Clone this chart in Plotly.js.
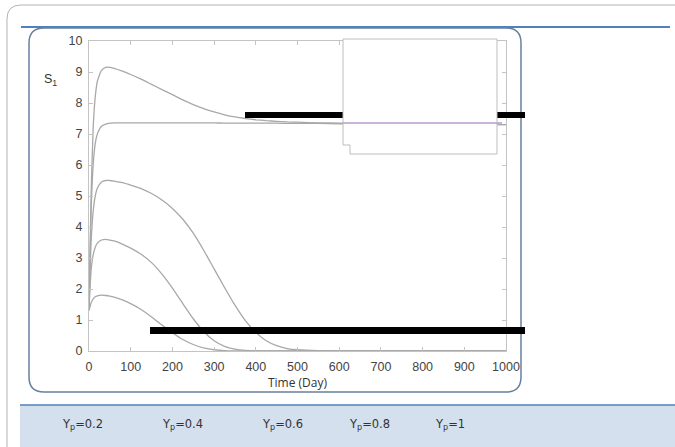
<!DOCTYPE html>
<html><head><meta charset="utf-8">
<script src="https://cdn.plot.ly/plotly-3.0.1.min.js"></script>
<style>html,body{margin:0;padding:0;background:#fff}#chart{width:675px;height:447px}</style>
</head><body><div id="chart"></div>
<script>
var time = [0,5,10,15,20,30,40,50,60,80,100,125,150,175,200,225,250,275,300,325,350,375,400,425,450,475,500,550,600,700,800,900,1000];
var s1_a = [1.5,5.0,7.2,8.2,8.7,9.05,9.15,9.15,9.12,9.03,8.92,8.77,8.6,8.43,8.27,8.1,7.95,7.82,7.71,7.62,7.55,7.5,7.46,7.43,7.41,7.39,7.38,7.36,7.35,7.33,7.32,7.31,7.3];
var s1_b = [1.5,4.5,6.0,6.7,7.0,7.25,7.32,7.35,7.36,7.36,7.36,7.36,7.36,7.36,7.36,7.36,7.36,7.36,7.36,7.35,7.35,7.35,7.35,7.35,7.35,7.34,7.34,7.34,7.33,7.32,7.32,7.31,7.3];
var s1_c = [1.4,3.5,4.5,5.0,5.25,5.45,5.5,5.5,5.48,5.43,5.35,5.24,5.08,4.87,4.6,4.25,3.8,3.25,2.65,2.05,1.48,0.98,0.6,0.33,0.17,0.08,0.04,0.01,0.005,0,0,0,0];
var s1_d = [1.35,2.6,3.1,3.35,3.48,3.58,3.6,3.58,3.55,3.45,3.32,3.12,2.85,2.48,2.03,1.53,1.04,0.63,0.33,0.15,0.06,0.02,0.01,0,0,0,0,0,0,0,0,0,0];
var s1_e = [1.3,1.55,1.68,1.75,1.78,1.8,1.79,1.77,1.74,1.65,1.53,1.34,1.1,0.84,0.59,0.37,0.21,0.1,0.04,0.01,0,0,0,0,0,0,0,0,0,0,0,0,0];
var ypLabels = ["Y<sub>p</sub>=0.2","Y<sub>p</sub>=0.4","Y<sub>p</sub>=0.6","Y<sub>p</sub>=0.8","Y<sub>p</sub>=1"];
var series = [s1_e, s1_d, s1_c, s1_b, s1_a];
var xTicks = [0,100,200,300,400,500,600,700,800,900,1000];
var yTicks = [0,1,2,3,4,5,6,7,8,9,10];

var W = 675, H = 447;
function X(p){return p/W;}
function Y(p){return 1-p/H;}
function rr(x0,y0,x1,y1,r){
  function P(x,y){return X(x)+','+Y(y);}
  return 'M'+P(x0+r,y0)+' L'+P(x1-r,y0)+' Q'+P(x1,y0)+' '+P(x1,y0+r)+
    ' L'+P(x1,y1-r)+' Q'+P(x1,y1)+' '+P(x1-r,y1)+' L'+P(x0+r,y1)+
    ' Q'+P(x0,y1)+' '+P(x0,y1-r)+' L'+P(x0,y0+r)+' Q'+P(x0,y0)+' '+P(x0+r,y0)+' Z';
}
function poly(pts){
  return 'M'+pts.map(function(p){return X(p[0])+','+Y(p[1]);}).join(' L')+' Z';
}

var traces = series.map(function(s,i){
  return {x: time, y: s, type:'scatter', mode:'lines', name: ypLabels[i],
    line:{color:'#a8a8a8', width:1.3, shape:'spline', smoothing:0.5}, showlegend:false};
});

var shapes = [
  {type:'path', xref:'paper', yref:'paper', path: rr(7,5,720,500,14), line:{color:'#b3b3b3', width:1}},
  {type:'line', xref:'paper', yref:'paper', x0:X(21), y0:Y(27), x1:X(670), y1:Y(27), line:{color:'#4f81bd', width:2}},
  {type:'path', xref:'paper', yref:'paper', path: rr(29,28,521,392,15), line:{color:'#66819f', width:1.5}},
  {type:'rect', xref:'paper', yref:'paper', x0:X(20), y0:Y(447), x1:X(675), y1:Y(405), fillcolor:'#d4e0ee', line:{width:0}},
  {type:'line', xref:'paper', yref:'paper', x0:X(20), y0:Y(405), x1:X(675), y1:Y(405), line:{color:'#4f81bd', width:1.5}},
  {type:'rect', xref:'paper', yref:'paper', x0:X(245), y0:Y(118), x1:X(525), y1:Y(112), fillcolor:'#000', line:{width:0}},
  {type:'rect', xref:'paper', yref:'paper', x0:X(150), y0:Y(334), x1:X(525), y1:Y(327), fillcolor:'#000', line:{width:0}},
  {type:'path', xref:'paper', yref:'paper', path: poly([[343,39],[497,39],[497,154],[350,154],[350,145],[343,145]]), fillcolor:'#fff', line:{color:'#bdbdbd', width:1}},
  {type:'line', xref:'paper', yref:'paper', x0:X(343), y0:Y(123), x1:X(502), y1:Y(123), line:{color:'#b49ad0', width:1.5}}
];

var xs = [60,160,260,347,433];
var annotations = ypLabels.map(function(t,i){
  return {xref:'paper', yref:'paper', x:X(xs[i]), y:Y(424), xanchor:'left', yanchor:'middle', showarrow:false, text:t,
    font:{family:'DejaVu Sans', size:11.5, color:'#333'}};
});
annotations.push({xref:'paper', yref:'paper', x:X(42), y:Y(80), xanchor:'left', yanchor:'middle', showarrow:false,
  text:'S<sub>1</sub>', font:{family:'Liberation Sans', size:12.5, color:'#333'}});

var tickFont = {family:'Liberation Sans Narrow, Liberation Sans', size:12.5, color:'#444'};
var layout = {
  width: W, height: H,
  margin:{l:0,r:0,t:0,b:0,pad:0},
  paper_bgcolor:'#fff', plot_bgcolor:'#fff',
  xaxis:{domain:[X(89),X(506)], range:[0,1000], tickvals:xTicks, ticktext:xTicks.map(String),
    showline:true, linecolor:'#c4c4c4', linewidth:1, mirror:'allticks', ticks:'inside', ticklen:4, tickcolor:'#c4c4c4',
    showgrid:false, zeroline:false, tickfont:tickFont, ticklabelstandoff:4,
    title:{text:'Time (Day)', standoff:5, font:{family:'Open Sans', size:12, color:'#333'}}},
  yaxis:{domain:[Y(351),Y(41)], range:[0,10], tickvals:yTicks, ticktext:yTicks.map(String),
    showline:true, linecolor:'#c4c4c4', linewidth:1, mirror:'allticks', ticks:'inside', ticklen:4, tickcolor:'#c4c4c4',
    showgrid:false, zeroline:false, tickfont:tickFont, ticklabelstandoff:3},
  shapes: shapes,
  annotations: annotations
};
Plotly.newPlot('chart', traces, layout, {staticPlot:true, displayModeBar:false});
</script></body></html>
